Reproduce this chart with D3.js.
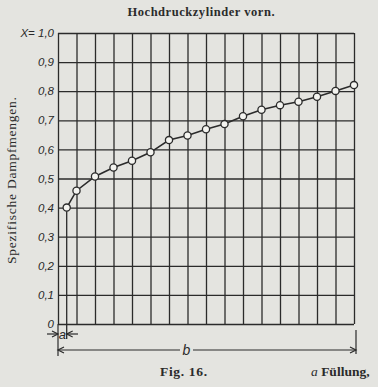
<!DOCTYPE html>
<html>
<head>
<meta charset="utf-8">
<script src="https://cdn.jsdelivr.net/npm/d3@7"></script>
<style>
  body { margin: 0; background: #e4e4e0; }
  svg { display: block; }
  .tick text { font-family: "Liberation Sans", sans-serif; font-style: italic; font-size: 11.5px; fill: #2a2a2a; }
</style>
</head>
<body>
<svg id="chart" width="378" height="387"></svg>
<script>
// x positions in grid units (first point is the filling "a")
const xUnits = [0.47, 1, 2, 3, 4, 5, 6, 7, 8, 9, 10, 11, 12, 13, 14, 15, 16];
const steamValues = [0.40, 0.458, 0.507, 0.538, 0.561, 0.590, 0.632, 0.648, 0.669, 0.687, 0.714, 0.736, 0.752, 0.764, 0.781, 0.801, 0.821];
const yTicks = [0, 0.1, 0.2, 0.3, 0.4, 0.5, 0.6, 0.7, 0.8, 0.9, 1.0];
const yTickLabels = ['0', '0,1', '0,2', '0,3', '0,4', '0,5', '0,6', '0,7', '0,8', '0,9', 'X= 1,0'];
const xGrid = d3.range(0, 17);

const ink = '#2b2b2b';
const plotL = 58, plotR = 354, plotT = 33, plotB = 324;

const svg = d3.select('#chart');

const x = d3.scaleLinear().domain([0, 16]).range([plotL, plotR]);
const y = d3.scaleLinear().domain([0, 1]).range([plotB, plotT]);

// title
svg.append('text')
  .attr('x', 201).attr('y', 16)
  .attr('text-anchor', 'middle')
  .attr('font-family', '"Liberation Serif", "DejaVu Serif", serif')
  .attr('font-weight', 'bold')
  .attr('font-size', 12.5)
  .attr('textLength', 147)
  .attr('fill', ink)
  .text('Hochdruckzylinder vorn.');

// horizontal grid + labels
const yAxis = d3.axisLeft(y)
  .tickValues(yTicks)
  .tickFormat((d, i) => yTickLabels[i])
  .tickSize(-(plotR - plotL))
  .tickPadding(4);

svg.append('g')
  .attr('transform', 'translate(' + plotL + ',0)')
  .call(yAxis)
  .call(g => g.select('.domain').remove())
  .call(g => g.selectAll('.tick line').attr('stroke', ink).attr('stroke-width', 1.3));

// vertical grid
const xAxis = d3.axisBottom(x)
  .tickValues(xGrid)
  .tickFormat('')
  .tickSize(-(plotB - plotT));

svg.append('g')
  .attr('transform', 'translate(0,' + plotB + ')')
  .call(xAxis)
  .call(g => g.select('.domain').remove())
  .call(g => g.selectAll('.tick line').attr('stroke', ink).attr('stroke-width', 1.3));

// y axis title
svg.append('text')
  .attr('transform', 'translate(16,180.5) rotate(-90)')
  .attr('text-anchor', 'middle')
  .attr('font-family', '"Liberation Serif", "DejaVu Serif", serif')
  .attr('font-size', 13.5)
  .attr('textLength', 167)
  .attr('fill', ink)
  .text('Spezifische Dampfmengen.');

// line at filling a, from point down to dimension
const ax = x(xUnits[0]);
svg.append('line')
  .attr('x1', ax).attr('x2', ax)
  .attr('y1', y(steamValues[0])).attr('y2', 339)
  .attr('stroke', ink).attr('stroke-width', 1.3);

// curve
const line = d3.line()
  .x((d, i) => x(xUnits[i]))
  .y(d => y(d));

svg.append('path')
  .datum(steamValues)
  .attr('d', line)
  .attr('fill', 'none')
  .attr('stroke', ink)
  .attr('stroke-width', 1.6);

svg.selectAll('circle.pt')
  .data(steamValues)
  .enter().append('circle')
  .attr('class', 'pt')
  .attr('cx', (d, i) => x(xUnits[i]))
  .attr('cy', d => y(d))
  .attr('r', 3.6)
  .attr('fill', '#f4f4f0')
  .attr('stroke', ink)
  .attr('stroke-width', 1.3);

// dimension lines
const dim = svg.append('g').attr('stroke', ink).attr('stroke-width', 1.2).attr('fill', 'none');
dim.append('line').attr('x1', plotL).attr('x2', plotL).attr('y1', plotB).attr('y2', 356);
dim.append('line').attr('x1', plotR + 2).attr('x2', plotR + 2).attr('y1', 330).attr('y2', 354);

function arrow(tipX, tipY, dir) {
  dim.append('path')
    .attr('d', 'M' + (tipX - dir * 6) + ',' + (tipY - 3) + 'L' + tipX + ',' + tipY + 'L' + (tipX - dir * 6) + ',' + (tipY + 3));
}

// a
const ay = 334;
dim.append('line').attr('x1', 47).attr('x2', plotL).attr('y1', ay).attr('y2', ay);
arrow(plotL, ay, 1);
dim.append('line').attr('x1', ax).attr('x2', 78).attr('y1', ay).attr('y2', ay);
arrow(ax, ay, -1);

svg.append('text')
  .attr('x', (plotL + ax) / 2).attr('y', ay + 4.5)
  .attr('text-anchor', 'middle')
  .attr('font-family', '"Liberation Sans", sans-serif')
  .attr('font-style', 'italic')
  .attr('font-size', 13)
  .attr('fill', ink)
  .text('a');

// b
const by = 350;
dim.append('line').attr('x1', plotL).attr('x2', 180).attr('y1', by).attr('y2', by);
dim.append('line').attr('x1', 193).attr('x2', plotR + 2).attr('y1', by).attr('y2', by);
arrow(plotL, by, -1);
arrow(plotR + 2, by, 1);

svg.append('text')
  .attr('x', 186.5).attr('y', by + 4.5)
  .attr('text-anchor', 'middle')
  .attr('font-family', '"Liberation Sans", sans-serif')
  .attr('font-style', 'italic')
  .attr('font-size', 14)
  .attr('fill', ink)
  .text('b');

// captions
svg.append('text')
  .attr('x', 160).attr('y', 376)
  .attr('font-family', '"Liberation Serif", "DejaVu Serif", serif')
  .attr('font-weight', 'bold')
  .attr('font-size', 13.5)
  .attr('textLength', 47)
  .attr('fill', ink)
  .text('Fig. 16.');

const cap = svg.append('text')
  .attr('x', 311).attr('y', 376)
  .attr('font-family', '"Liberation Serif", "DejaVu Serif", serif')
  .attr('font-size', 13.5)
  .attr('fill', ink);
cap.append('tspan').attr('font-style', 'italic').text('a');
cap.append('tspan').attr('font-weight', 'bold').text(' Füllung,');
</script>
</body>
</html>
